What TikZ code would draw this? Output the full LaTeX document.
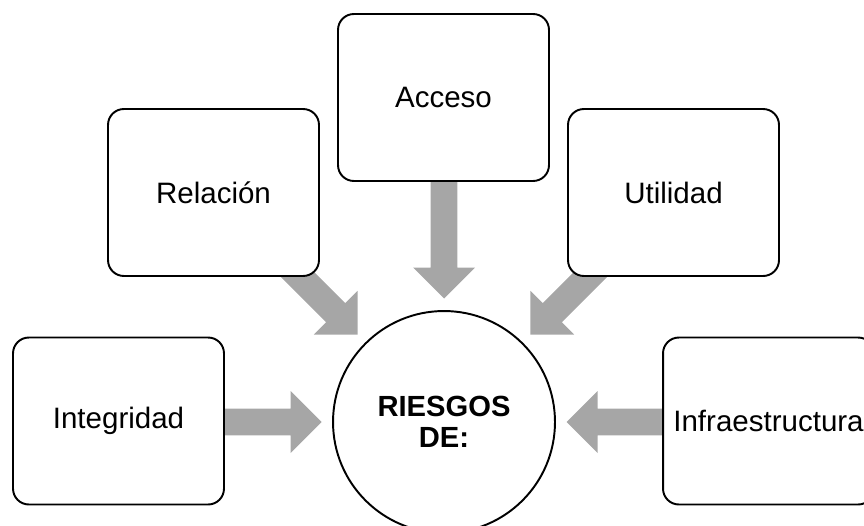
\documentclass[tikz,border=0pt]{standalone}
\usepackage{fontspec}
\setmainfont{Liberation Sans}
\usetikzlibrary{shapes.arrows}

\tikzset{
    caja/.style={draw=black, line width=1.1pt, fill=white, rounded corners=9pt,
        minimum width=4.22cm, minimum height=3.34cm, inner sep=0pt,
        font=\fontsize{16.8}{18}\selectfont},
    centro/.style={draw=black, line width=1.1pt, fill=white, circle,
        minimum size=4.44cm, inner sep=0pt, align=center,
        font=\fontsize{16.6}{17.6}\selectfont\bfseries},
    flecha/.style={single arrow, fill=gris, draw=none, inner xsep=0pt,
        inner ysep=0.185cm, minimum width=1.24cm, single arrow head extend=0.25cm,
        sloped, allow upside down, pos=1, anchor=tip}
}
\definecolor{gris}{RGB}{166,166,166}

\begin{document}
\begin{tikzpicture}[x=0.02cm, y=0.02cm]

    % marco de la figura
    \clip (0,0) rectangle (864,525);

    % extremos de las flechas
    \coordinate (colaI) at (225,103);
    \coordinate (puntaI) at (322,103);
    \coordinate (colaF) at (663,103);
    \coordinate (puntaF) at (566,103);
    \coordinate (colaA) at (444,343);
    \coordinate (puntaA) at (444,226);
    \coordinate (colaR) at (289.4,258.6);
    \coordinate (puntaR) at (358,190);
    \coordinate (colaU) at (598.6,258.6);
    \coordinate (puntaU) at (530,190);

    % flechas grises
    \path (colaI) -- (puntaI) node[flecha, minimum height=1.94cm] (fI) {};
    \path (colaF) -- (puntaF) node[flecha, minimum height=1.94cm] (fF) {};
    \path (colaA) -- (puntaA) node[flecha, minimum height=2.34cm] (fA) {};
    \path (colaR) -- (puntaR) node[flecha, minimum height=1.94cm] (fR) {};
    \path (colaU) -- (puntaU) node[flecha, minimum height=1.94cm] (fU) {};

    % cajas
    \node[caja] (acceso) at (443.5,427.5) {Acceso};
    \node[caja] (relacion) at (213.5,332.5) {Relación};
    \node[caja] (utilidad) at (673.5,332.5) {Utilidad};
    \node[caja] (integridad) at (118.5,104) {Integridad};
    \node[caja] (infra) at (768.5,104) {Infraestructura};

    % circulo central
    \node[centro] (riesgos) at (444,103) {RIESGOS\\DE:};

\end{tikzpicture}
\end{document}
